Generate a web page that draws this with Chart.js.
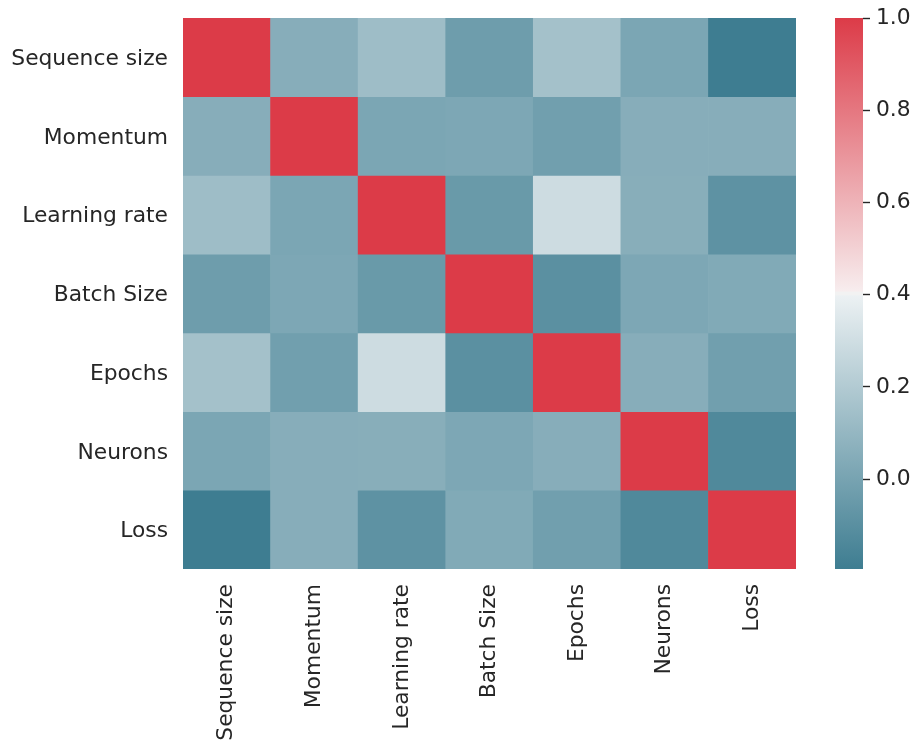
<!DOCTYPE html>
<html><head><meta charset="utf-8">
<script src="https://cdn.jsdelivr.net/npm/chart.js@4.4.1/dist/chart.umd.min.js"></script>
<style>
html,body{margin:0;padding:0;background:#fff;}
#wrap{position:relative;width:919px;height:748px;}
canvas{position:absolute;left:0;top:0;}
</style></head><body>
<div id="wrap"><canvas id="heat" width="919" height="748"></canvas><canvas id="cbar" width="919" height="748"></canvas></div>
<script>
// ---- data ----
const variables = ["Sequence size", "Momentum", "Learning rate", "Batch Size", "Epochs", "Neurons", "Loss"];
const rowSequenceSize = [1.000, 0.054, 0.136, -0.029, 0.154, 0.016, -0.195];
const rowMomentum     = [0.054, 1.000, 0.016, 0.023, -0.019, 0.054, 0.054];
const rowLearningRate = [0.136, 0.016, 1.000, -0.046, 0.295, 0.058, -0.085];
const rowBatchSize    = [-0.029, 0.023, -0.046, 1.000, -0.095, 0.023, 0.036];
const rowEpochs       = [0.154, -0.019, 0.295, -0.095, 1.000, 0.054, -0.019];
const rowNeurons      = [0.016, 0.054, 0.058, 0.023, 0.054, 1.000, -0.133];
const rowLoss         = [-0.195, 0.054, -0.085, 0.036, -0.019, -0.133, 1.000];
const colorbarRange = [-0.195, 1.0];
const colorbarTicks = [0.0, 0.2, 0.4, 0.6, 0.8, 1.0];

const matrix = [rowSequenceSize, rowMomentum, rowLearningRate, rowBatchSize, rowEpochs, rowNeurons, rowLoss];

// ---- colormap (diverging 220 -> 10, light center) ----
const DARK = [62,125,145], LIGHT_NEG = [236,241,243], MID = [242,242,242], LIGHT_POS = [247,237,238], RED = [220,59,72];
function mix(a,b,u){return a.map((x,k)=>Math.round(x+(b[k]-x)*u));}
function rgb(c){return 'rgb('+c[0]+','+c[1]+','+c[2]+')';}
function cmap(v){
  let t=(v-colorbarRange[0])/(colorbarRange[1]-colorbarRange[0]);
  t=Math.max(0,Math.min(1,t));
  if(t<0.5) return rgb(mix(DARK,LIGHT_NEG,t/0.5));
  return rgb(mix(LIGHT_POS,RED,(t-0.5)/0.5));
}

const FONT = {family:"'DejaVu Sans', sans-serif", size:21.8};
const TXT = '#262626';

// ---- heatmap ----
const heatDatasets = matrix.map((row,i)=>({
  label: variables[i],
  data: row.map(()=>[i, i+1]),
  backgroundColor: row.map(v=>cmap(v)),
  borderWidth: 0,
  barPercentage: 1.0,
  categoryPercentage: 1.0,
  grouped: false
}));

new Chart(document.getElementById('heat'), {
  type: 'bar',
  data: {labels: variables, datasets: heatDatasets},
  options: {
    responsive:false, animation:false,
    layout:{padding:{left:0, top:18, right:123, bottom:0}},
    plugins:{legend:{display:false}, tooltip:{enabled:false}},
    scales:{
      x:{
        type:'category',
        grid:{display:false, drawTicks:false},
        border:{display:false},
        ticks:{font:FONT, color:TXT, minRotation:90, maxRotation:90, autoSkip:false, padding:15},
        afterFit:(s)=>{s.height=179; s.paddingLeft=0; s.paddingRight=0;}
      },
      y:{
        type:'linear', reverse:true, min:0, max:variables.length,
        grid:{display:false, drawTicks:false},
        border:{display:false},
        afterBuildTicks:(s)=>{s.ticks=variables.map((_,i)=>({value:i+0.5}));},
        ticks:{font:FONT, color:TXT, autoSkip:false, padding:15, labelOffset:2,
          callback:(v,idx)=>variables[idx]},
        afterFit:(s)=>{s.width=183; s.paddingTop=0; s.paddingBottom=0;}
      }
    }
  }
});

// ---- colorbar ----
new Chart(document.getElementById('cbar'), {
  type:'bar',
  data:{labels:[''], datasets:[{
    data:[[colorbarRange[0], colorbarRange[1]]],
    borderWidth:0, barPercentage:1.0, categoryPercentage:1.0,
    backgroundColor:(ctx)=>{
      const ca=ctx.chart.chartArea; if(!ca) return null;
      const ys=ctx.chart.scales.y;
      const y0=ys.getPixelForValue(colorbarRange[0]), y1=ys.getPixelForValue(colorbarRange[1]);
      const g=ctx.chart.ctx.createLinearGradient(0,y0,0,y1);
      g.addColorStop(0,rgb(DARK));
      g.addColorStop(0.496,rgb(LIGHT_NEG));
      g.addColorStop(0.497,rgb(MID));
      g.addColorStop(0.503,rgb(MID));
      g.addColorStop(0.504,rgb(LIGHT_POS));
      g.addColorStop(1,rgb(RED));
      return g;
    }
  }]},
  options:{
    responsive:false, animation:false,
    layout:{padding:{left:835, top:18, right:0, bottom:179}},
    plugins:{legend:{display:false}, tooltip:{enabled:false}},
    scales:{
      x:{display:false},
      y:{
        position:'right', min:colorbarRange[0], max:colorbarRange[1],
        grid:{display:true, drawOnChartArea:false, drawTicks:true, tickLength:7, color:TXT, tickWidth:1.4},
        border:{display:false},
        afterBuildTicks:(s)=>{s.ticks=colorbarTicks.map(v=>({value:v}));},
        ticks:{font:FONT, color:TXT, padding:6, callback:(v)=>Number(v).toFixed(1)},
        afterFit:(s)=>{s.width=56; s.paddingTop=0; s.paddingBottom=0;}
      }
    }
  }
});
</script>
</body></html>
